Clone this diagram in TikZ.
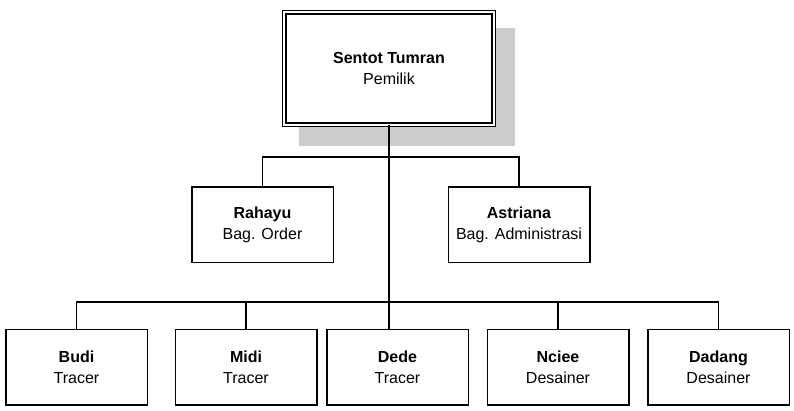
\documentclass[tikz,border=0pt]{standalone}
\usepackage{fontspec}
\setmainfont{Liberation Sans}
\usetikzlibrary{calc}
\definecolor{bayang}{HTML}{CCCCCC}
\tikzset{
  kotak/.style={draw=black,line width=1.5pt,fill=white,minimum width=141.5pt,minimum height=75.5pt,
    align=center,inner sep=0pt,font=\fontsize{16}{21}\selectfont},
  pemilik/.style={kotak,line width=1.3pt,double,double distance=2pt,minimum width=209.4pt,minimum height=112.4pt},
  garis/.style={black,line width=1.3pt},
}

\begin{document}
\begin{tikzpicture}[x=1pt,y=-1pt]
  \useasboundingbox (0,0) rectangle (794,410);
  \fill[bayang] (299,28) rectangle (515,146);
  \node[pemilik] (sentot) at (389,68.5) {\textbf{Sentot Tumran}\\Pemilik};
  \node[kotak] (rahayu) at (262.5,224.5) {\textbf{Rahayu}\\Bag. Order};
  \node[kotak] (astriana) at (519,224.5) {\textbf{Astriana}\\Bag. Administrasi};
  \node[kotak] (budi) at (76.5,367) {\textbf{Budi}\\Tracer};
  \node[kotak] (midi) at (246,367) {\textbf{Midi}\\Tracer};
  \node[kotak] (dede) at (397.5,367) {\textbf{Dede}\\Tracer};
  \node[kotak] (nciee) at (558,367) {\textbf{Nciee}\\Desainer};
  \node[kotak] (dadang) at (718.5,367) {\textbf{Dadang}\\Desainer};
  \coordinate (cabang1) at (389,157);
  \coordinate (cabang2) at (389,302);
  \draw[garis] (sentot.south) -- (sentot.south |- dede.north);
  \draw[garis] (rahayu.north) |- (cabang1) -| (astriana.north);
  \draw[garis] (budi.north) |- (cabang2) -| (dadang.north);
  \draw[garis] (midi.north) -- (midi.north |- cabang2);
  \draw[garis] (nciee.north) -- (nciee.north |- cabang2);
\end{tikzpicture}
\end{document}
